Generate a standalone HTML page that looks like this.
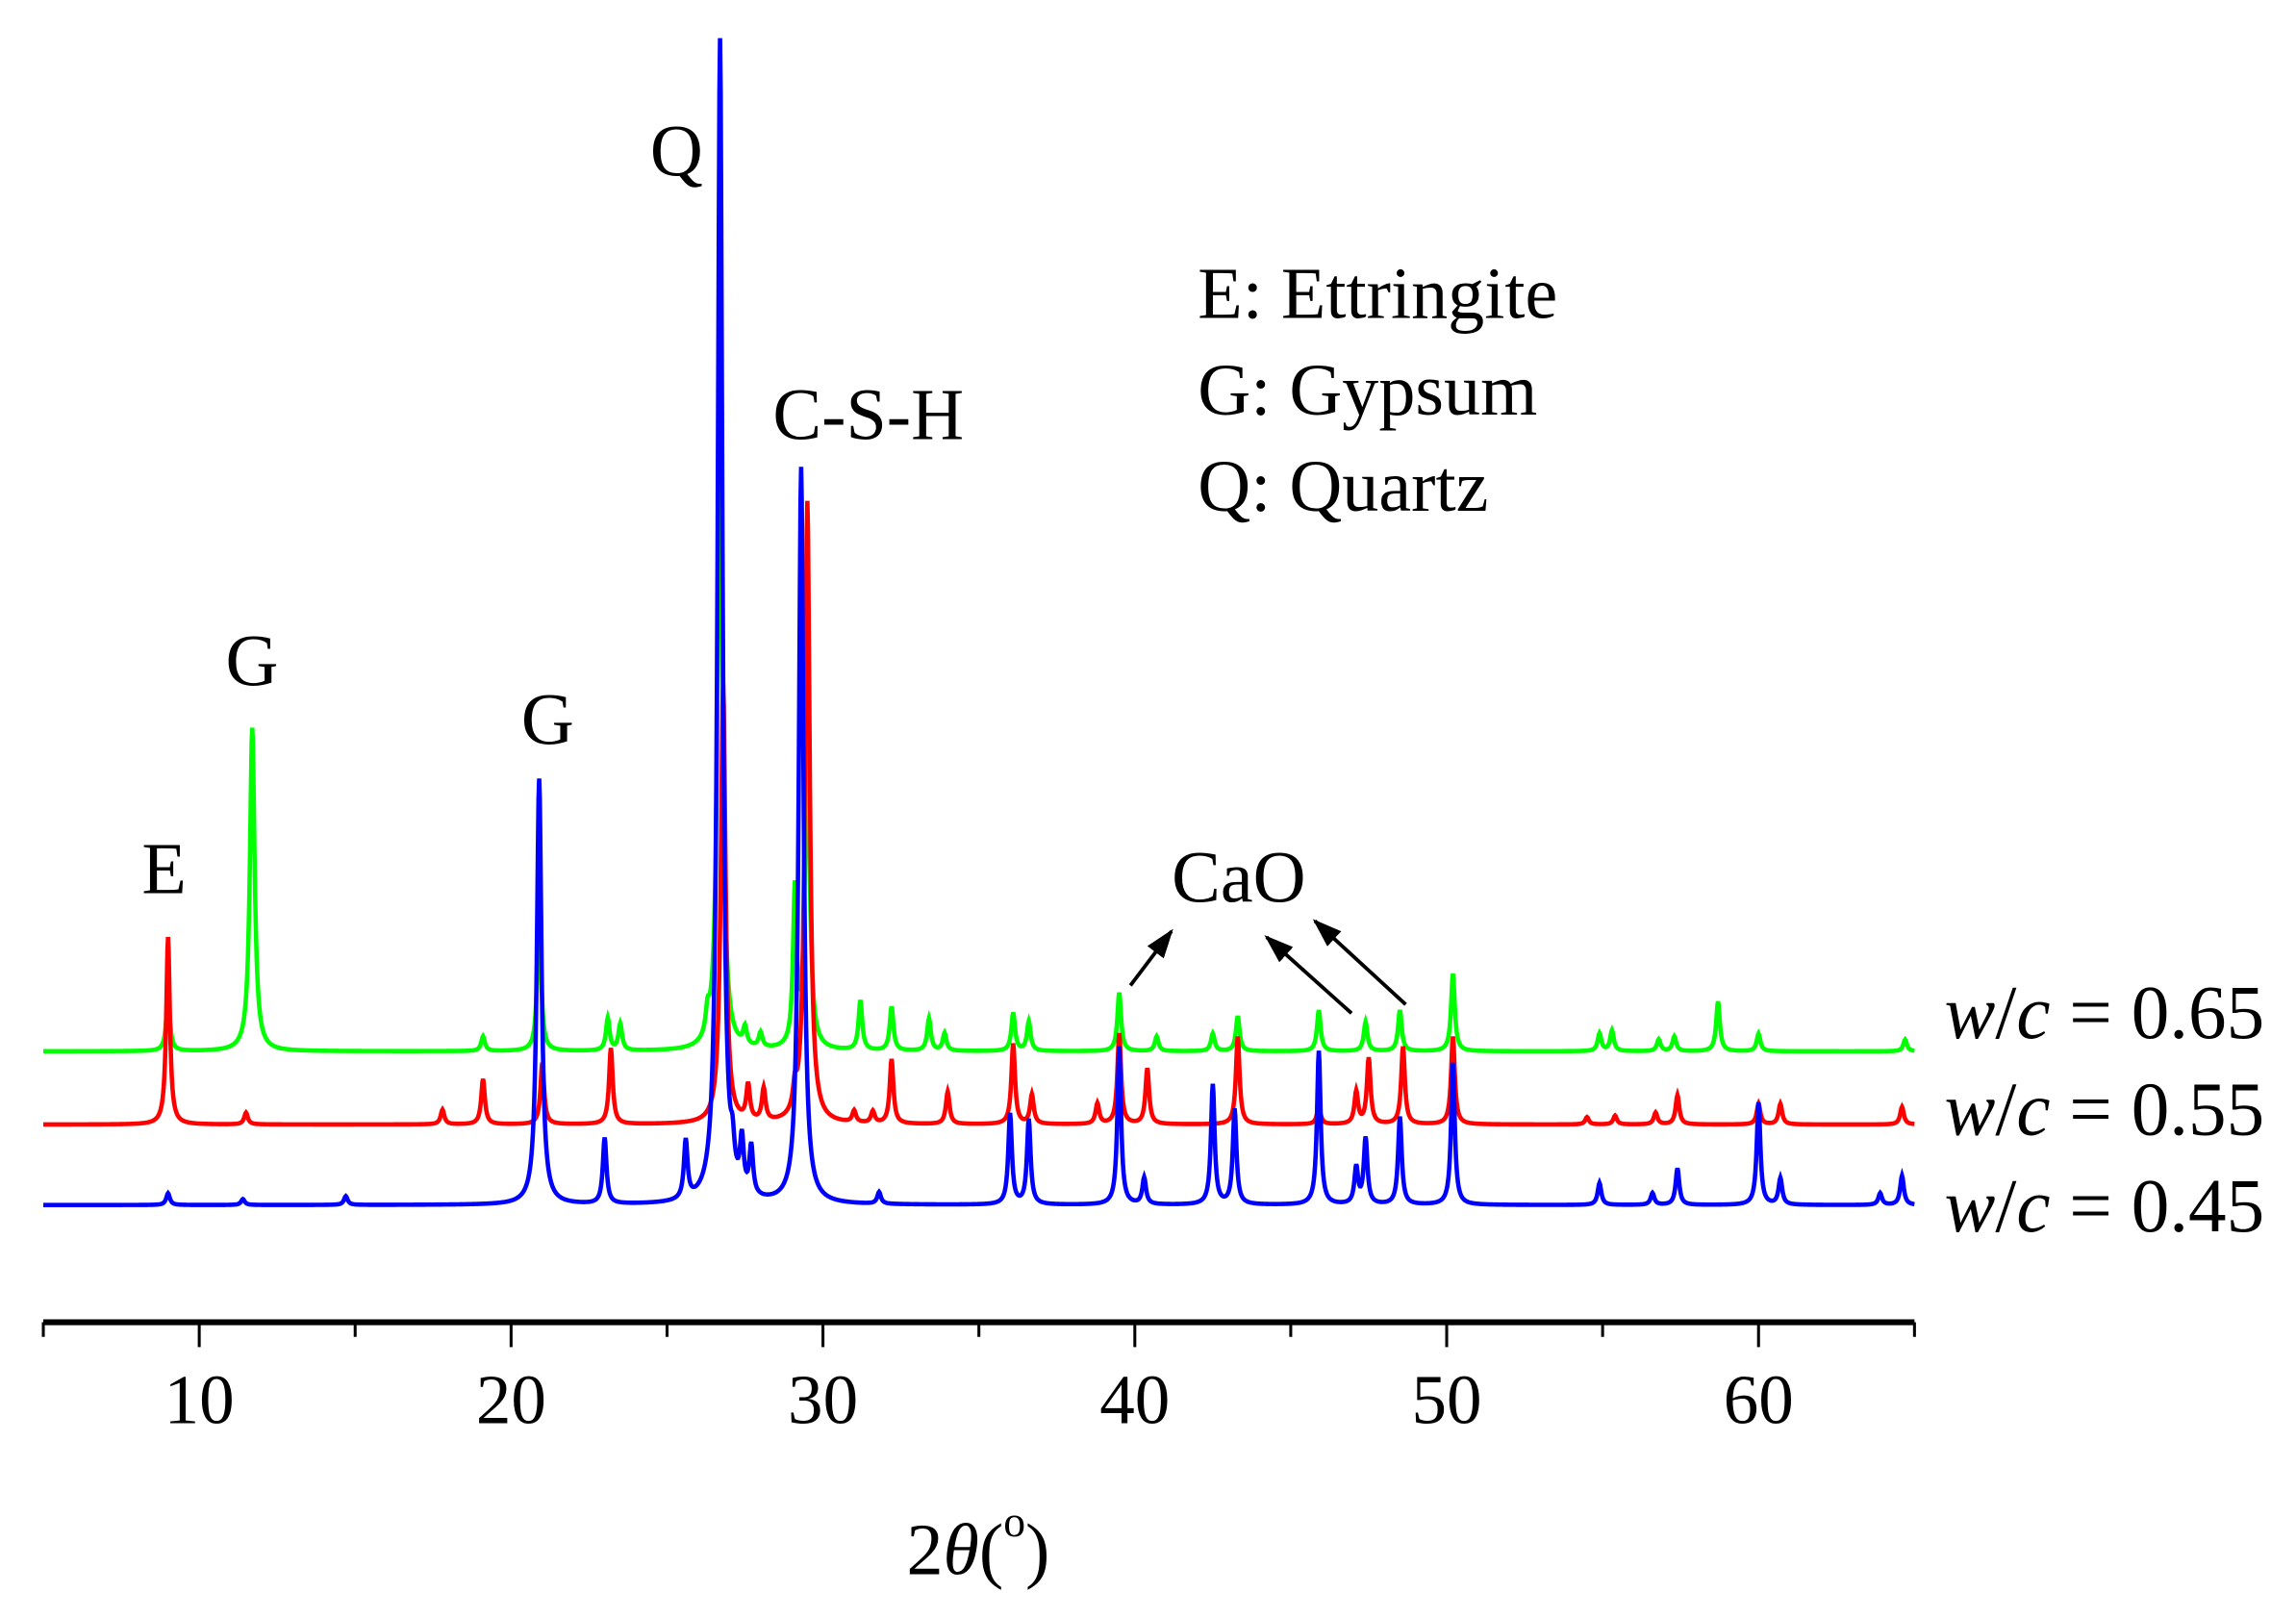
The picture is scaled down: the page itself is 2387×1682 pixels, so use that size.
<!DOCTYPE html>
<html><head><meta charset="utf-8"><style>
html,body{margin:0;padding:0;background:#fff;}
svg{display:block;}
text{font-family:"Liberation Serif",serif;fill:#000;}
</style></head><body>
<svg id="chart" width="2387" height="1682" viewBox="0 0 1568 1105" xmlns="http://www.w3.org/2000/svg">
<defs><marker id="ah" markerWidth="20" markerHeight="14" refX="18" refY="7" orient="auto" markerUnits="userSpaceOnUse"><path d="M0,0 L20,7 L0,14 Z" fill="#000"/></marker></defs>
<g id="series"></g>
<g id="axis"></g>
<text x="668" y="1075" font-size="50" text-anchor="middle">2<tspan font-style="italic">θ</tspan>(<tspan font-size="30" dy="-26">o</tspan><tspan dy="26">)</tspan></text>
<text x="462" y="120" font-size="50" text-anchor="middle">Q</text>
<text x="593" y="300" font-size="50" text-anchor="middle">C-S-H</text>
<text x="172" y="468" font-size="50" text-anchor="middle">G</text>
<text x="374" y="508" font-size="50" text-anchor="middle">G</text>
<text x="112" y="610" font-size="50" text-anchor="middle">E</text>
<text x="846" y="616" font-size="50" text-anchor="middle">CaO</text>
<line x1="772" y1="673" x2="800" y2="636" stroke="#000" stroke-width="2.5" marker-end="url(#ah)"/>
<line x1="923" y1="692" x2="865" y2="640" stroke="#000" stroke-width="2.5" marker-end="url(#ah)"/>
<line x1="960" y1="686" x2="898" y2="629" stroke="#000" stroke-width="2.5" marker-end="url(#ah)"/>
<g font-size="50">
<text x="818" y="217">E: Ettringite</text>
<text x="818" y="283">G: Gypsum</text>
<text x="818" y="349">Q: Quartz</text>
</g>
<text x="1328" y="709" font-size="52"><tspan font-style="italic">w</tspan>/<tspan font-style="italic">c</tspan> = 0.65</text>
<text x="1328" y="775" font-size="52"><tspan font-style="italic">w</tspan>/<tspan font-style="italic">c</tspan> = 0.55</text>
<text x="1328" y="841" font-size="52"><tspan font-style="italic">w</tspan>/<tspan font-style="italic">c</tspan> = 0.45</text>
</svg>
<script>
const xTicks=[10,20,30,40,50,60];
const xMinor=[5,15,25,35,45,55,65];
const baseGreen=718, baseRed=768, baseBlue=823;
const peaksGreen=[[9.0,38],[11.7,221],[19.1,10],[20.9,98],[23.1,22],[23.5,18],[26.3,15],[26.7,453],[27.5,12],[28.0,10],[29.1,106],[29.5,208],[31.2,34],[32.2,30],[33.4,22],[33.9,12],[36.1,26],[36.6,20],[39.5,40],[40.7,10],[42.5,12],[43.3,24],[45.9,28],[47.4,20],[48.5,28],[50.2,53],[54.9,12],[55.3,14],[56.8,8],[57.3,10],[58.7,34],[60.0,12],[64.7,8]];
const peaksRed=[[9.0,128],[11.5,8],[17.8,10],[19.1,31],[21.0,42],[23.2,52],[26.8,300],[27.6,24],[28.1,22],[29.1,15],[29.5,425],[31.0,8],[31.6,8],[32.2,44],[34.0,22],[36.1,55],[36.7,20],[38.8,14],[39.5,62],[40.4,38],[43.3,60],[45.9,12],[47.1,22],[47.5,45],[48.6,53],[50.2,60],[54.5,5],[55.4,6],[56.7,8],[57.4,20],[60.0,14],[60.7,14],[64.6,12]];
const peaksBlue=[[9.0,8],[11.4,4],[14.7,6],[20.9,291],[23.0,45],[25.6,40],[26.7,795],[27.1,20],[27.4,35],[27.7,33],[29.3,503],[31.8,8],[36.0,62],[36.6,58],[39.5,108],[40.3,18],[42.5,82],[43.2,65],[45.9,105],[47.1,25],[47.4,45],[48.5,60],[50.2,97],[54.9,15],[56.6,8],[57.4,25],[60.0,70],[60.7,18],[63.9,8],[64.6,20]];
const X=v=>29.5+(v-5)*21.3;
const NS='http://www.w3.org/2000/svg';
const ser=document.getElementById('series');
function curve(peaks,base,color,name){
  let d='';
  for(let t=5;t<=65.0001;t+=0.02){
    let y=0;
    for(const [c,h] of peaks){const w=h>150?0.09:0.07;const u=(t-c)/w;y+=h/(1+u*u);}
    d+=(d?'L':'M')+X(t).toFixed(2)+','+(base-y).toFixed(2);
  }
  const p=document.createElementNS(NS,'path');
  p.setAttribute('d',d);p.setAttribute('fill','none');p.setAttribute('stroke',color);p.setAttribute('stroke-width','3');
  
  
  ser.appendChild(p);
}
curve(peaksGreen,baseGreen,'#00ff00','series-wc-065');
curve(peaksRed,baseRed,'#ff0000','series-wc-055');
curve(peaksBlue,baseBlue,'#0000ff','series-wc-045');
const ax=document.getElementById('axis');
const line=document.createElementNS(NS,'line');
line.setAttribute('x1',X(5));line.setAttribute('x2',X(65));line.setAttribute('y1',903);line.setAttribute('y2',903);
line.setAttribute('stroke','#000');line.setAttribute('stroke-width','4');


ax.appendChild(line);
for(const v of xMinor){
  const t=document.createElementNS(NS,'line');
  t.setAttribute('x1',X(v));t.setAttribute('x2',X(v));t.setAttribute('y1',903);t.setAttribute('y2',913);
  t.setAttribute('stroke','#000');t.setAttribute('stroke-width','2');
  
  
  ax.appendChild(t);
}
for(const v of xTicks){
  const t=document.createElementNS(NS,'line');
  t.setAttribute('x1',X(v));t.setAttribute('x2',X(v));t.setAttribute('y1',903);t.setAttribute('y2',920);
  t.setAttribute('stroke','#000');t.setAttribute('stroke-width','2');
  
  
  ax.appendChild(t);
  const l=document.createElementNS(NS,'text');
  l.setAttribute('x',X(v));l.setAttribute('y',972);l.setAttribute('font-size','48');l.setAttribute('text-anchor','middle');
  l.textContent=v;
  
  
  ax.appendChild(l);
}
</script>
</body></html>
